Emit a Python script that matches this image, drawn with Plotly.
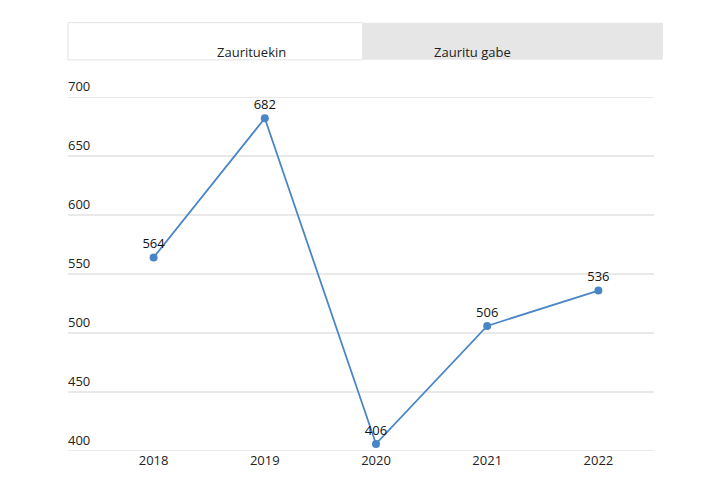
import plotly.graph_objects as go

years = ["2018", "2019", "2020", "2021", "2022"]
values = [564, 682, 406, 506, 536]
y_ticks = [400, 450, 500, 550, 600, 650, 700]
tabs = ["Zaurituekin", "Zauritu gabe"]

font = "Open Sans, Lato, sans-serif"
line_color = "#4a86c5"

fig = go.Figure(go.Scatter(
    x=years, y=values,
    mode="lines+markers+text",
    text=[str(v) for v in values],
    textposition="top center",
    textfont=dict(size=13, color="#111"),
    line=dict(color=line_color, width=1.8),
    marker=dict(size=8, color=line_color),
    cliponaxis=False,
    hoverinfo="x+y",
))

# gridlines and left-aligned labels sitting above them
for v in y_ticks:
    fig.add_shape(type="line", xref="paper", yref="y", x0=-0.054, x1=1, y0=v, y1=v,
                  line=dict(color="#d3d3d3", width=1), layer="below")
    fig.add_annotation(xref="paper", yref="y", x=-0.057, y=v, text=str(v),
                       showarrow=False, xanchor="left", yanchor="bottom",
                       font=dict(size=13, color="#222", family=font))

# tabs
fig.add_shape(type="rect", xref="paper", yref="paper", x0=-0.054, x1=0.476, y0=1.105, y1=1.21,
              fillcolor="white", line=dict(color="#e3e3e3", width=1))
fig.add_shape(type="rect", xref="paper", yref="paper", x0=0.476, x1=1.016, y0=1.105, y1=1.21,
              fillcolor="#e6e6e6", line=dict(width=0))
fig.add_annotation(xref="paper", yref="paper", x=0.211, y=1.158, text=tabs[0], showarrow=False,
                   font=dict(size=13, color="#222", family=font))
fig.add_annotation(xref="paper", yref="paper", x=0.746, y=1.158, text=tabs[1], showarrow=False,
                   font=dict(size=13, color="#222", family=font))

fig.update_layout(
    width=706, height=487,
    margin=dict(l=90, r=60, t=89, b=44, autoexpand=False),
    paper_bgcolor="white", plot_bgcolor="white",
    font=dict(family=font, size=13, color="#222"),
    showlegend=False,
    xaxis=dict(range=[-0.5, 4.5], showgrid=False, zeroline=False, showline=False,
               ticks="", tickfont=dict(size=13)),
    yaxis=dict(range=[400, 700], showgrid=False, zeroline=False, showticklabels=False),
)

fig.write_html("out.html")
